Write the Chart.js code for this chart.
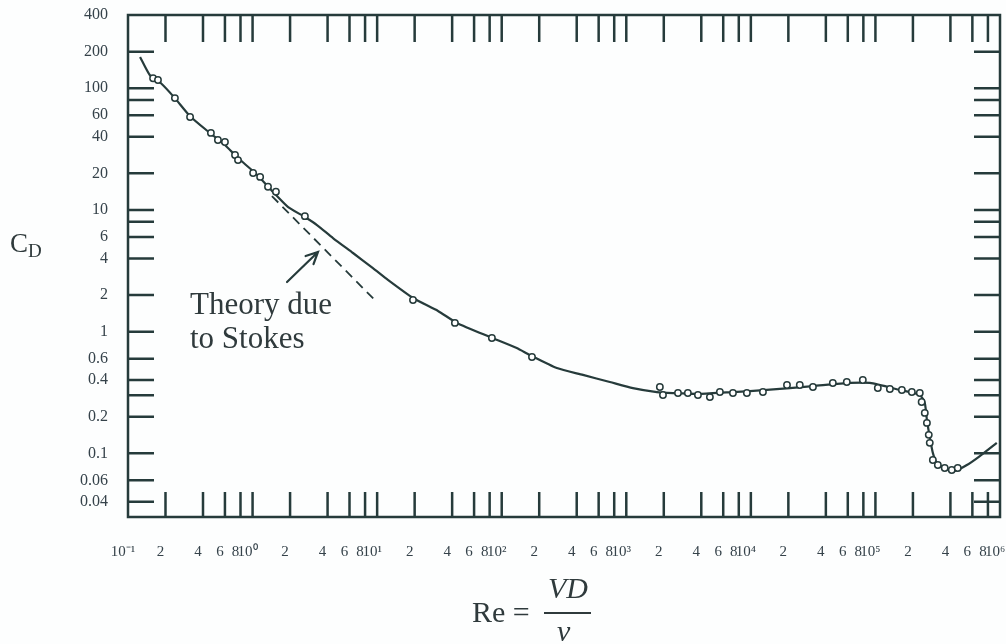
<!DOCTYPE html>
<html>
<head>
<meta charset="utf-8">
<script src="https://cdn.jsdelivr.net/npm/chart.js@4.4.1/dist/chart.umd.min.js"></script>
<style>
  body { margin: 0; background: #fdfefe; }
  #wrap { position: relative; width: 1006px; height: 644px; overflow: hidden; font-family: 'Liberation Serif', 'Times New Roman', serif; color: #2f3a3c; }
  canvas { position: absolute; left: 0; top: 0; }
  .lbl { position: absolute; white-space: nowrap; }
</style>
</head>
<body>
<div id="wrap">
  <canvas id="dragChart" width="1006" height="644"></canvas>
  <div class="lbl" style="left:10px;top:230px;font-size:27px;line-height:26px">C<span style="font-size:19px;position:relative;top:5px">D</span></div>
  <div class="lbl" style="left:190px;top:287px;font-size:31px;line-height:34px">Theory due<br>to Stokes</div>
  <div class="lbl" style="left:472px;top:597px;font-size:30px;line-height:30px">Re =</div>
  <div class="lbl" style="left:548px;top:573px;font-size:30px;line-height:30px;font-style:italic">VD</div>
  <div style="position:absolute;left:544px;top:612px;width:47px;height:2px;background:#2f3a3c"></div>
  <div class="lbl" style="left:557px;top:616px;font-size:30px;line-height:30px;font-style:italic">ν</div>
</div>
<script>
// smooth curve through the measurements
const reCurve = [0.125, 0.150, 0.184, 0.238, 0.315, 0.455, 0.600, 0.764, 1.05, 1.41,
  1.92, 2.63, 3.29, 4.42, 6.40, 9.25, 12.2, 19.4, 30.8, 43.7,
  80.4, 132, 168, 277, 449, 738, 1130, 1760, 2370, 3900,
  7180, 13400, 31500, 62400, 90200, 157000, 227000, 249000, 259000, 273000,
  289000, 311000, 374000, 434000, 542000, 689000, 942000];
const cdCurve = [181, 128, 110, 83, 59, 42.9, 34.2, 26.7, 20.1, 14.6,
  10.6, 8.75, 7.52, 5.88, 4.43, 3.33, 2.66, 1.89, 1.48, 1.18,
  0.904, 0.734, 0.643, 0.502, 0.441, 0.386, 0.344, 0.319, 0.313, 0.308,
  0.319, 0.332, 0.357, 0.379, 0.379, 0.332, 0.302, 0.259, 0.188, 0.136,
  0.101, 0.0834, 0.0745, 0.0716, 0.0802, 0.0951, 0.122];

// measured points (open circles)
const reDots = [0.159, 0.174, 0.238, 0.315, 0.463, 0.527, 0.600, 0.723, 0.764, 1.01,
  1.15, 1.33, 1.54, 2.63, 19.4, 42.1, 83.4, 175, 1860, 1970,
  2600, 3120, 3760, 4690, 5640, 7180, 9290, 12500, 19500, 24700,
  31500, 45500, 58900, 79200, 104500, 130600, 163000, 196000, 227000, 235000,
  249000, 259000, 268000, 273000, 289000, 317000, 360000, 410000, 458000];
const cdDots = [121, 117, 83, 58, 43, 37.6, 36.2, 28.3, 25.7, 20.1,
  18.7, 15.5, 14.1, 8.9, 1.82, 1.18, 0.887, 0.619, 0.351, 0.302,
  0.313, 0.313, 0.302, 0.290, 0.319, 0.313, 0.313, 0.319, 0.365, 0.365,
  0.351, 0.379, 0.386, 0.401, 0.344, 0.338, 0.332, 0.319, 0.313, 0.264,
  0.215, 0.178, 0.142, 0.122, 0.0881, 0.0802, 0.0759, 0.0730, 0.0759];

// Stokes theory (dashed)
const reStokes = [1.43, 9.42];
const cdStokes = [13.0, 1.85];

// arrow pointing at the curve, tail then tip
const reArrow = [1.89, 3.35];
const cdArrow = [2.56, 4.52];

const xTicks = [0.1, 0.2, 0.4, 0.6, 0.8, 1, 2, 4, 6, 8, 10, 20, 40, 60, 80, 100,
  200, 400, 600, 800, 1e3, 2e3, 4e3, 6e3, 8e3, 1e4, 2e4, 4e4, 6e4, 8e4, 1e5,
  2e5, 4e5, 6e5, 8e5, 1e6];
const xTickLabels = ['10⁻¹', '2', '4', '6', '8', '10⁰', '2', '4', '6', '8', '10¹', '2', '4', '6', '8', '10²',
  '2', '4', '6', '8', '10³', '2', '4', '6', '8', '10⁴', '2', '4', '6', '8', '10⁵',
  '2', '4', '6', '8', '10⁶'];
const yTicks = [400, 200, 100, 60, 40, 20, 10, 6, 4, 2, 1, 0.6, 0.4, 0.2, 0.1, 0.06, 0.04];
const yTickMarks = [200, 100, 80, 60, 40, 20, 10, 8, 6, 4, 2, 1, 0.6, 0.4, 0.3, 0.2, 0.1, 0.06, 0.04];

const ink = '#263b3b';
const textColor = '#35424a';

const pts = (xs, ys) => xs.map((v, i) => ({ x: v, y: ys[i] }));

// frame with inward ticks, plus the arrow
const framePlugin = {
    id: 'frame',
    beforeDatasetsDraw(chart) {
        const { ctx, chartArea: a, scales: { x, y } } = chart;
        ctx.save();
        ctx.strokeStyle = ink;
        ctx.lineWidth = 2.5;
        ctx.strokeRect(a.left, a.top, a.right - a.left, a.bottom - a.top);
        ctx.beginPath();
        xTicks.forEach(v => {
            const px = x.getPixelForValue(v);
            if (px <= a.left + 2 || px >= a.right - 2) return;
            ctx.moveTo(px, a.bottom);
            ctx.lineTo(px, a.bottom - 25);
            ctx.moveTo(px, a.top);
            ctx.lineTo(px, a.top + 27);
        });
        yTickMarks.forEach(v => {
            const py = y.getPixelForValue(v);
            ctx.moveTo(a.left, py);
            ctx.lineTo(a.left + 26, py);
            ctx.moveTo(a.right, py);
            ctx.lineTo(a.right - 26, py);
        });
        ctx.stroke();
        ctx.restore();
    },
    afterDatasetsDraw(chart) {
        const { ctx, scales: { x, y } } = chart;
        const x0 = x.getPixelForValue(reArrow[0]), y0 = y.getPixelForValue(cdArrow[0]);
        const x1 = x.getPixelForValue(reArrow[1]), y1 = y.getPixelForValue(cdArrow[1]);
        const ang = Math.atan2(y1 - y0, x1 - x0);
        ctx.save();
        ctx.strokeStyle = ink;
        ctx.lineWidth = 2.2;
        ctx.lineCap = 'round';
        ctx.beginPath();
        ctx.moveTo(x0, y0);
        ctx.lineTo(x1, y1);
        ctx.moveTo(x1 - 13 * Math.cos(ang - 0.45), y1 - 13 * Math.sin(ang - 0.45));
        ctx.lineTo(x1, y1);
        ctx.lineTo(x1 - 13 * Math.cos(ang + 0.45), y1 - 13 * Math.sin(ang + 0.45));
        ctx.stroke();
        ctx.restore();
    }
};

const chart = new Chart(document.getElementById('dragChart'), {
    type: 'line',
    data: {
        datasets: [
            {
                label: 'Measured',
                data: pts(reDots, cdDots),
                showLine: false,
                pointRadius: 3.2,
                pointBorderWidth: 1.5,
                pointBackgroundColor: '#ffffff',
                pointBorderColor: ink,
                order: 0
            },
            {
                label: 'Curve',
                data: pts(reCurve, cdCurve),
                borderColor: ink,
                borderWidth: 2.2,
                pointRadius: 0,
                tension: 0.2,
                order: 1
            },
            {
                label: 'Stokes',
                data: pts(reStokes, cdStokes),
                borderColor: ink,
                borderWidth: 1.8,
                borderDash: [9, 6],
                pointRadius: 0,
                order: 2
            }
        ]
    },
    options: {
        responsive: false,
        animation: false,
        layout: {
            autoPadding: false,
            padding: { top: 15, right: 6, left: 0, bottom: 0 }
        },
        plugins: {
            legend: { display: false },
            tooltip: { enabled: false }
        },
        scales: {
            x: {
                type: 'logarithmic',
                min: 0.1,
                max: 1e6,
                grid: { display: false },
                border: { display: false },
                afterBuildTicks: scale => { scale.ticks = xTicks.map(v => ({ value: v })); },
                afterFit: scale => {
                    scale.height = 127;
                    scale.paddingLeft = 0;
                    scale.paddingRight = 0;
                },
                ticks: {
                    autoSkip: false,
                    maxRotation: 0,
                    minRotation: 0,
                    padding: 18,
                    labelOffset: -5,
                    color: textColor,
                    font: { family: "'Liberation Serif', serif", size: 15 },
                    callback: (value, index) => xTickLabels[index]
                }
            },
            y: {
                type: 'logarithmic',
                min: 0.03,
                max: 400,
                grid: { display: false },
                border: { display: false },
                afterBuildTicks: scale => { scale.ticks = yTicks.map(v => ({ value: v })); },
                afterFit: scale => {
                    scale.width = 128;
                    scale.paddingTop = 0;
                    scale.paddingBottom = 0;
                },
                ticks: {
                    autoSkip: false,
                    padding: 12,
                    color: textColor,
                    font: { family: "'Liberation Serif', serif", size: 16 },
                    callback: value => String(value)
                }
            }
        }
    },
    plugins: [framePlugin]
});
</script>
</body>
</html>
